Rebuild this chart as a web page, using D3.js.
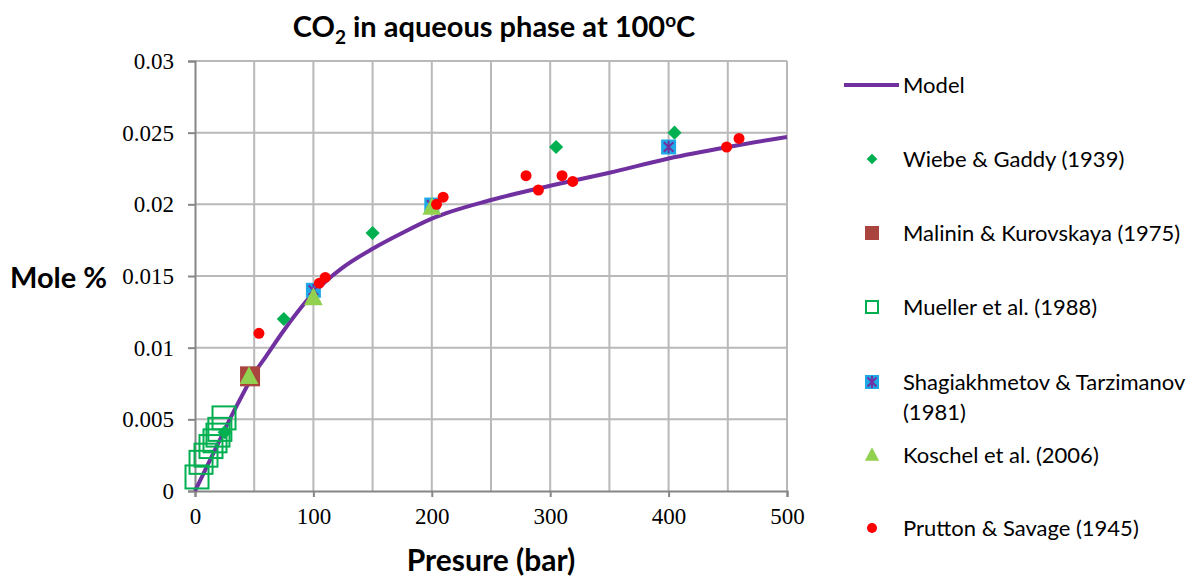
<!DOCTYPE html>
<html>
<head>
<meta charset="utf-8">
<script src="https://cdn.jsdelivr.net/npm/d3@7"></script>
<style>
  body { margin: 0; background: #fff; }
</style>
</head>
<body>
<div id="container"></div>
<script>
const width = 1199, height = 577;
const margin = { left: 195, right: 1199 - 787, top: 61, bottom: 577 - 491 };

// model curve (pressure bar, mole fraction)
const modelP = [0, 10, 20, 30, 40, 50, 60, 75, 100, 125, 150, 175, 200, 250, 300, 350, 400, 450, 500];
const modelV = [0, 0.0017, 0.0034, 0.0051, 0.0067, 0.0082, 0.0094, 0.0112, 0.0138, 0.0156, 0.0169, 0.0180, 0.0190, 0.0203, 0.0213, 0.0222, 0.0232, 0.0240, 0.0247];

// measured series
const wiebeP = [25, 75, 150, 305, 405];
const wiebeV = [0.0041, 0.012, 0.018, 0.024, 0.025];
const malininP = [46.5];
const malininV = [0.008];
const muellerP = [1.7, 5.1, 9.3, 13.5, 16.9, 19.4, 21, 24.5];
const muellerV = [0.00098, 0.0020, 0.0025, 0.0031, 0.0035, 0.0039, 0.0043, 0.0051];
const shagP = [100, 200, 400];
const shagV = [0.0140, 0.01995, 0.0240];
const koschelP = [45.6, 100, 200];
const koschelV = [0.0080, 0.0135, 0.0198];
const pruttonP = [54, 105, 110, 204, 209.6, 279.6, 290, 310, 319, 449, 459.5];
const pruttonV = [0.011, 0.0145, 0.0149, 0.0200, 0.0205, 0.022, 0.021, 0.022, 0.0216, 0.024, 0.0246];

const xTicks = [0, 100, 200, 300, 400, 500];
const xGrid = [50, 100, 150, 200, 250, 300, 350, 400, 450, 500];
const yTicks = [0, 0.005, 0.01, 0.015, 0.02, 0.025, 0.03];

const zip = (a, b) => a.map((p, i) => ({ p: p, v: b[i] }));

const svg = d3.select("#container").append("svg")
  .attr("width", width)
  .attr("height", height)

const xScale = d3.scaleLinear().domain([0, 500]).range([margin.left, width - margin.right])
const yScale = d3.scaleLinear().domain([0, 0.03]).range([height - margin.bottom, margin.top])

/* grid */
svg.append("g")
  .selectAll("line.vg")
  .data(xGrid)
  .join("line")
  .attr("x1", d => xScale(d)).attr("x2", d => xScale(d))
  .attr("y1", yScale(0)).attr("y2", yScale(0.03))
  .attr("stroke", "#b9b9b9").attr("stroke-width", 2)

svg.append("g")
  .selectAll("line.hg")
  .data(yTicks.slice(1))
  .join("line")
  .attr("x1", xScale(0)).attr("x2", xScale(500))
  .attr("y1", d => yScale(d)).attr("y2", d => yScale(d))
  .attr("stroke", "#b9b9b9").attr("stroke-width", 2)

/* axes */
const xAxis = d3.axisBottom(xScale).tickValues(xTicks).tickSize(6).tickPadding(11).tickFormat(d3.format("d"))
const yAxis = d3.axisLeft(yScale).tickValues(yTicks).tickSize(7).tickPadding(14).tickFormat(d => d === 0 ? "0" : String(+d.toFixed(3)))

const gx = svg.append("g")
  .attr("transform", `translate(0, ${yScale(0)})`)
  .call(xAxis)
const gy = svg.append("g")
  .attr("transform", `translate(${xScale(0)}, 0)`)
  .call(yAxis)

for (const g of [gx, gy]) {
  g.select(".domain").attr("stroke", "#868686").attr("stroke-width", 2)
  g.selectAll(".tick line").attr("stroke", "#868686").attr("stroke-width", 2)
  g.selectAll(".tick text")
    .attr("fill", "#000")
    .style("font-family", "'Liberation Serif', 'Times New Roman', serif")
    .style("font-size", "23px")
}

/* model line */
const line = d3.line()
  .x(d => xScale(d.p))
  .y(d => yScale(d.v))
  .curve(d3.curveMonotoneX)

svg.append("path")
  .datum(zip(modelP, modelV))
  .attr("d", line)
  .attr("fill", "none")
  .attr("stroke", "#7030a0")
  .attr("stroke-width", 4)

/* marker helpers */
const diamond = (g, s, fill) => g.append("rect")
  .attr("x", -s / 2).attr("y", -s / 2).attr("width", s).attr("height", s)
  .attr("transform", "rotate(45)").attr("fill", fill)
const square = (g, s, fill, stroke) => g.append("rect")
  .attr("x", -s / 2).attr("y", -s / 2).attr("width", s).attr("height", s)
  .attr("fill", fill).attr("stroke", stroke || "none").attr("stroke-width", stroke ? 2 : 0)
const triangle = (g, s, fill) => g.append("path")
  .attr("d", `M0,${-s * 0.6}L${s * 0.55},${s * 0.45}L${-s * 0.55},${s * 0.45}Z`)
  .attr("fill", fill)
const circle = (g, s, fill) => g.append("circle").attr("r", s / 2).attr("fill", fill)
const star = (g, s) => {
  square(g, s, "#1ea9e6")
  const h = s * 0.32
  g.append("path")
    .attr("d", `M${-h},${-h}L${h},${h}M${h},${-h}L${-h},${h}M0,${-s * 0.42}L0,${s * 0.42}`)
    .attr("stroke", "#7030a0").attr("stroke-width", 2)
}

const series = [
  { name: "Wiebe & Gaddy (1939)", data: zip(wiebeP, wiebeV), draw: (g, big) => diamond(g, big ? 10 : 7.5, "#00b050") },
  { name: "Malinin & Kurovskaya (1975)", data: zip(malininP, malininV), draw: (g, big) => square(g, big ? 20 : 14, "#a9443f") },
  { name: "Mueller et al. (1988)", data: zip(muellerP, muellerV), draw: (g, big) => square(g, big ? 23 : 12, "none", "#00b050") },
  { name: ["Shagiakhmetov & Tarzimanov", "(1981)"], data: zip(shagP, shagV), draw: (g, big) => star(g, big ? 15 : 14) },
  { name: "Koschel et al. (2006)", data: zip(koschelP, koschelV), draw: (g, big) => triangle(g, big ? 17 : 13, "#92d050") },
  { name: "Prutton & Savage (1945)", data: zip(pruttonP, pruttonV), draw: (g, big) => circle(g, big ? 11 : 10, "#ff0000") }
]

series.forEach(s => {
  svg.append("g")
    .selectAll("g")
    .data(s.data)
    .join("g")
    .attr("transform", d => `translate(${xScale(d.p)}, ${yScale(d.v)})`)
    .each(function () { s.draw(d3.select(this), true) })
})

/* title and axis labels */
const sans = "Lato, 'Open Sans', sans-serif"
const title = svg.append("text")
  .attr("x", 494).attr("y", 37)
  .attr("text-anchor", "middle")
  .style("font-family", sans).style("font-weight", "bold").style("font-size", "29px")
title.append("tspan").text("CO")
title.append("tspan").attr("dy", 7).style("font-size", "19px").text("2")
title.append("tspan").attr("dy", -7).text(" in aqueous phase at 100")
title.append("tspan").attr("dy", -10).style("font-size", "19px").text("o")
title.append("tspan").attr("dy", 10).text("C")

svg.append("text")
  .attr("x", 10).attr("y", 288)
  .style("font-family", sans).style("font-weight", "bold").style("font-size", "29px")
  .text("Mole %")

svg.append("text")
  .attr("x", 491).attr("y", 571)
  .attr("text-anchor", "middle")
  .style("font-family", sans).style("font-weight", "bold").style("font-size", "30px")
  .text("Presure (bar)")

/* legend */
const legend = svg.append("g")
legend.append("line")
  .attr("x1", 844).attr("x2", 899).attr("y1", 85).attr("y2", 85)
  .attr("stroke", "#7030a0").attr("stroke-width", 4)
legend.append("text")
  .attr("x", 903).attr("y", 85).attr("dy", "0.35em")
  .style("font-family", sans).style("font-size", "22px")
  .text("Model")

const legendY = [159, 233, 307, 382, 455, 528]
series.forEach((s, i) => {
  const g = legend.append("g").attr("transform", `translate(872, ${legendY[i]})`)
  s.draw(g, false)
  const t = legend.append("text")
    .attr("x", 903).attr("y", legendY[i])
    .style("font-family", sans).style("font-size", "22px")
  const names = Array.isArray(s.name) ? s.name : [s.name]
  names.forEach((n, j) => t.append("tspan").attr("x", 903).attr("dy", j === 0 ? "0.35em" : 30).text(n))
})
</script>
</body>
</html>
